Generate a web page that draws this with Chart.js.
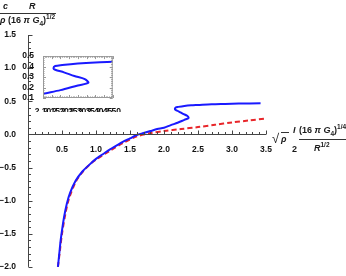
<!DOCTYPE html>
<html>
<head>
<meta charset="utf-8">
<script src="https://cdn.jsdelivr.net/npm/chart.js@4.4.1/dist/chart.umd.min.js"></script>
<style>
  html, body { margin: 0; padding: 0; background: #fff; }
  #wrap { position: relative; width: 346px; height: 276px; overflow: hidden; }
  #main { position: absolute; left: 0; top: 0; }
  #inset { position: absolute; left: 18px; top: 50px; }
  .lbl { position: absolute; font-family: "Liberation Sans", Arial, sans-serif; font-weight: bold;
         font-size: 9px; color: #1a1a1a; white-space: nowrap; line-height: 1; }
  .lbl i { font-style: italic; }
  .lbl sup, .lbl sub { font-size: 6.5px; line-height: 0; }
  .bar { position: absolute; height: 1px; background: #333; }
  .ov { border-top: 1px solid #333; padding-top: 1px; }
</style>
</head>
<body>
<div id="wrap">
  <canvas id="main" width="346" height="276"></canvas>
  <canvas id="inset" width="104" height="62"></canvas>

  <!-- y axis label -->
  <div class="lbl" style="left:3px;top:2px;"><i>c</i></div>
  <div class="lbl" style="left:29px;top:2px;"><i>R</i></div>
  <div class="bar" style="left:0;top:13px;width:56px;"></div>
  <div class="lbl" style="left:0;top:16px;"><i>ρ</i> (16 <i>π</i> <i>G</i><sub>4</sub>)<sup>1/2</sup></div>

  <!-- x axis label -->
  <div class="lbl" style="left:272px;top:132px;font-size:13px;font-weight:normal;">√</div>
  <div class="lbl" style="left:281px;top:135px;"><span class="ov"><i>ρ</i>&nbsp;</span></div>
  <div class="lbl" style="left:293px;top:126px;"><i>I</i></div>
  <div class="lbl" style="left:292px;top:145px;">2</div>
  <div class="lbl" style="left:299px;top:126px;">(16 <i>π</i> <i>G</i><sub>4</sub>)<sup>1/4</sup></div>
  <div class="bar" style="left:299px;top:139px;width:47px;"></div>
  <div class="lbl" style="left:314px;top:144px;"><i>R</i><sup>1/2</sup></div>
</div>

<script>
// ── Data ────────────────────────────────────────────────
const blueX = [0.44, 0.46, 0.48, 0.50, 0.53, 0.57, 0.62, 0.70, 0.80, 0.90, 1.00, 1.10, 1.20, 1.30,
               1.40, 1.50, 1.60, 1.70, 1.80, 1.90, 2.00, 2.10, 2.20, 2.30, 2.36, 2.34, 2.28, 2.22,
               2.17, 2.16, 2.17, 2.21, 2.30, 2.40, 2.50, 2.70, 2.90, 3.10, 3.42];
const blueY = [-2.00, -1.80, -1.60, -1.45, -1.25, -1.05, -0.88, -0.70, -0.56, -0.46, -0.37, -0.30, -0.23, -0.17,
               -0.11, -0.06, -0.01, 0.02, 0.05, 0.08, 0.10, 0.14, 0.175, 0.22, 0.245, 0.28, 0.31, 0.345,
               0.37, 0.385, 0.405, 0.415, 0.43, 0.44, 0.445, 0.455, 0.46, 0.465, 0.47];

const redX = [0.44, 0.47, 0.50, 0.55, 0.60, 0.70, 0.80, 0.90, 1.00, 1.20, 1.40, 1.60, 1.80, 2.00,
              2.25, 2.50, 2.75, 3.00, 3.25, 3.50];
const redY = [-2.00, -1.75, -1.50, -1.20, -0.98, -0.72, -0.57, -0.46, -0.38, -0.25, -0.13, -0.03, 0.02, 0.05,
              0.08, 0.11, 0.145, 0.18, 0.21, 0.24];

const mainXTicks = [0.5, 1.0, 1.5, 2.0, 2.5, 3.0, 3.5];
const mainYTicks = [-2.0, -1.5, -1.0, -0.5, 0.0, 0.5, 1.0, 1.5];
const insetXTicks = [2.10, 2.15, 2.20, 2.25, 2.30, 2.35, 2.40, 2.45, 2.50];
const insetYTicks = [0.1, 0.2, 0.3, 0.4, 0.5];

const BLUE = '#1a1aff';
const RED = '#e8262a';
const TICK_FONT = { family: '"Liberation Sans", Arial, sans-serif', size: 8.5, weight: 'bold' };

const toPoints = (xs, ys) => xs.map((x, i) => ({ x, y: ys[i] }));
const fmt = v => (v < 0 ? '\u2212' : '') + Math.abs(v).toFixed(1);

// ── Axes drawn through the origin, Mathematica-style ────
const originAxes = {
    id: 'originAxes',
    afterDraw(chart) {
        const { ctx } = chart;
        const xs = chart.scales.x, ys = chart.scales.y;
        const y0 = Math.round(ys.getPixelForValue(0)) + 0.5;
        const x0 = Math.round(xs.getPixelForValue(0)) + 0.5;
        ctx.save();
        ctx.strokeStyle = '#444';
        ctx.lineWidth = 1;
        ctx.beginPath();
        ctx.moveTo(x0, y0);
        ctx.lineTo(xs.getPixelForValue(3.5), y0);
        ctx.moveTo(x0, ys.getPixelForValue(1.5));
        ctx.lineTo(x0, ys.getPixelForValue(-2));
        for (let i = 1; i <= 35; i++) {
            const px = Math.round(xs.getPixelForValue(i / 10)) + 0.5;
            const len = i % 5 === 0 ? 4 : 2.5;
            ctx.moveTo(px, y0);
            ctx.lineTo(px, y0 - len);
        }
        for (let i = -20; i <= 15; i++) {
            const py = Math.round(ys.getPixelForValue(i / 10)) + 0.5;
            const len = i % 5 === 0 ? 4 : 2.5;
            ctx.moveTo(x0, py);
            ctx.lineTo(x0 + len, py);
        }
        ctx.stroke();
        ctx.restore();
    }
};

// ── Frame with inward ticks for the inset ────────────────
const insetFrame = {
    id: 'insetFrame',
    afterDraw(chart) {
        const { ctx, chartArea: a } = chart;
        const xs = chart.scales.x, ys = chart.scales.y;
        ctx.save();
        ctx.strokeStyle = '#999';
        ctx.lineWidth = 1;
        ctx.strokeRect(a.left + 0.5, a.top + 0.5, a.right - a.left - 1, a.bottom - a.top - 1);
        ctx.beginPath();
        for (let i = 210; i <= 250; i++) {
            const px = Math.round(xs.getPixelForValue(i / 100)) + 0.5;
            const len = i % 5 === 0 ? 3 : 1.5;
            ctx.moveTo(px, a.bottom); ctx.lineTo(px, a.bottom - len);
            ctx.moveTo(px, a.top); ctx.lineTo(px, a.top + len);
        }
        for (let i = 10; i <= 50; i += 2) {
            const py = Math.round(ys.getPixelForValue(i / 100)) + 0.5;
            const len = i % 10 === 0 ? 3 : 1.5;
            ctx.moveTo(a.left, py); ctx.lineTo(a.left + len, py);
            ctx.moveTo(a.right, py); ctx.lineTo(a.right - len, py);
        }
        ctx.stroke();
        ctx.restore();
    }
};

// ── Main chart ──────────────────────────────────────────
new Chart(document.getElementById('main'), {
    type: 'line',
    data: {
        datasets: [
            { data: toPoints(blueX, blueY), borderColor: BLUE, borderWidth: 2, tension: 0.3, clip: false },
            { data: toPoints(redX, redY), borderColor: RED, borderWidth: 2, borderDash: [5, 3], tension: 0.3, clip: false }
        ]
    },
    options: {
        responsive: false,
        animation: false,
        parsing: false,
        elements: { point: { radius: 0 } },
        layout: { padding: { top: 35, right: 80, bottom: 4, left: 0 } },
        plugins: { legend: { display: false }, tooltip: { enabled: false } },
        scales: {
            x: {
                type: 'linear', min: 0, max: 3.5, position: { y: 0 },
                afterBuildTicks: s => { s.ticks = mainXTicks.map(v => ({ value: v })); },
                grid: { display: false }, border: { display: false },
                ticks: { font: TICK_FONT, color: '#111', padding: 2, maxRotation: 0, autoSkip: false, callback: fmt }
            },
            y: {
                type: 'linear', min: -2, max: 1.5, position: 'left',
                afterBuildTicks: s => { s.ticks = mainYTicks.map(v => ({ value: v })); },
                afterFit: s => { s.width = 28; },
                grid: { display: false }, border: { display: false },
                ticks: { font: TICK_FONT, color: '#111', padding: 4, autoSkip: false, callback: fmt }
            }
        }
    },
    plugins: [originAxes]
});

// ── Inset ───────────────────────────────────────────────
new Chart(document.getElementById('inset'), {
    type: 'line',
    data: {
        datasets: [
            { data: toPoints(blueX, blueY), borderColor: BLUE, borderWidth: 2, tension: 0.3 }
        ]
    },
    options: {
        responsive: false,
        animation: false,
        parsing: false,
        elements: { point: { radius: 0 } },
        layout: { padding: { top: 5, right: 9, bottom: 0, left: 0 } },
        plugins: { legend: { display: false }, tooltip: { enabled: false } },
        scales: {
            x: {
                type: 'linear', min: 2.1, max: 2.5, position: 'bottom',
                afterBuildTicks: s => { s.ticks = insetXTicks.map(v => ({ value: v })); },
                afterFit: s => { s.height = 14; },
                grid: { display: false }, border: { display: false },
                ticks: { font: TICK_FONT, color: '#111', padding: 1, maxRotation: 0, minRotation: 0,
                         autoSkip: false, callback: v => v.toFixed(2) }
            },
            y: {
                type: 'linear', min: 0.1, max: 0.5, position: 'left',
                afterBuildTicks: s => { s.ticks = insetYTicks.map(v => ({ value: v })); },
                afterFit: s => { s.width = 25; },
                grid: { display: false }, border: { display: false },
                ticks: { font: TICK_FONT, color: '#111', padding: 1, autoSkip: false, callback: v => v.toFixed(1) }
            }
        }
    },
    plugins: [insetFrame]
});
</script>
</body>
</html>
